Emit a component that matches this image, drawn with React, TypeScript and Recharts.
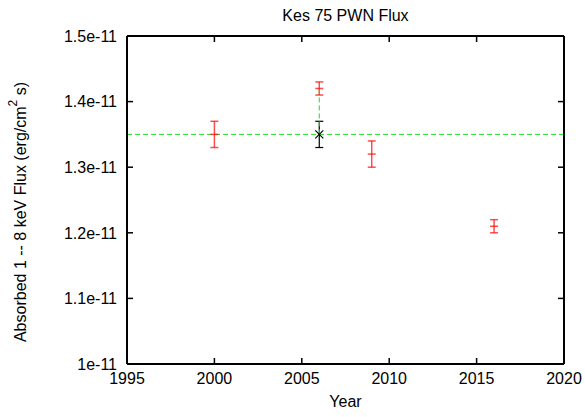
import React from "react";
import {
  ComposedChart,
  Scatter,
  XAxis,
  YAxis,
  ErrorBar,
  ReferenceLine,
  Label,
} from "recharts";

const xTicks = [1995, 2000, 2005, 2010, 2015, 2020];
const yTicks = [1e-11, 1.1e-11, 1.2e-11, 1.3e-11, 1.4e-11, 1.5e-11];
const yTickLabels = ["1e-11", "1.1e-11", "1.2e-11", "1.3e-11", "1.4e-11", "1.5e-11"];

const redYears = [2000, 2006, 2009, 2016];
const redFlux = [1.35e-11, 1.42e-11, 1.32e-11, 1.21e-11];
const redErr = [2e-13, 1e-13, 2e-13, 1e-13];

const blackYears = [2006];
const blackFlux = [1.35e-11];
const blackErr = [2e-13];

const meanFlux = 1.35e-11;
const linkYears = [2006, 2006];
const linkFlux = [1.35e-11, 1.42e-11];

const redData = redYears.map((x, i) => ({ x, y: redFlux[i], err: redErr[i] }));
const blackData = blackYears.map((x, i) => ({ x, y: blackFlux[i], err: blackErr[i] }));
const linkData = linkYears.map((x, i) => ({ x, y: linkFlux[i] }));

const FONT = "'Liberation Sans', Arial, sans-serif";
const FS = 16;
const TL = 6;

const BottomTick = (p: any) => (
  <g>
    <line x1={p.x} x2={p.x} y1={p.y} y2={p.y - TL} stroke="#000" strokeWidth={1.5} />
    <text x={p.x} y={p.y + 20} textAnchor="middle" fontFamily={FONT} fontSize={FS} fill="#000">
      {p.payload.value}
    </text>
  </g>
);
const TopTick = (p: any) => (
  <line x1={p.x} x2={p.x} y1={p.y} y2={p.y + TL} stroke="#000" strokeWidth={1.5} />
);
const LeftTick = (p: any) => {
  const idx = yTicks.findIndex((t) => Math.abs(t - p.payload.value) < 1e-15);
  return (
    <g>
      <line x1={p.x} x2={p.x + TL} y1={p.y} y2={p.y} stroke="#000" strokeWidth={1.5} />
      <text x={p.x - 10} y={p.y} dy="0.36em" textAnchor="end" fontFamily={FONT} fontSize={FS} fill="#000">
        {idx >= 0 ? yTickLabels[idx] : ""}
      </text>
    </g>
  );
};
const RightTick = (p: any) => (
  <line x1={p.x} x2={p.x - TL} y1={p.y} y2={p.y} stroke="#000" strokeWidth={1.5} />
);

const RedShape = (p: any) => (
  <line x1={p.cx - 4} x2={p.cx + 4} y1={p.cy} y2={p.cy} stroke="#ff0000" strokeOpacity={0.7} strokeWidth={1.5} />
);
const BlackShape = (p: any) => (
  <g stroke="#000" strokeWidth={1.2}>
    <line x1={p.cx - 4} x2={p.cx + 4} y1={p.cy - 4} y2={p.cy + 4} />
    <line x1={p.cx - 4} x2={p.cx + 4} y1={p.cy + 4} y2={p.cy - 4} />
  </g>
);
const NoShape = () => <g />;

const YLabel = (props: any) => {
  const vb = props.viewBox || { x: 0, y: 36, width: 127, height: 328 };
  const cx = 20;
  const cy = vb.y + vb.height / 2 + 12;
  return (
    <text
      x={cx}
      y={cy}
      transform={`rotate(-90, ${cx}, ${cy})`}
      textAnchor="middle"
      dominantBaseline="central"
      fontFamily={FONT}
      fontSize={FS}
      fill="#000"
    >
      Absorbed 1 -- 8 keV Flux (erg/cm
      <tspan dy={-7} fontSize={12}>2</tspan>
      <tspan dy={7}> s)</tspan>
    </text>
  );
};

const Title = (props: any) => {
  const vb = props.viewBox || { x: 127, y: 35, width: 437 };
  return (
    <text x={vb.x + vb.width / 2} y={21} textAnchor="middle" fontFamily={FONT} fontSize={FS} fill="#000">
      Kes 75 PWN Flux
    </text>
  );
};

const XTitle = (props: any) => {
  const vb = props.viewBox || { x: 127, y: 364, width: 437 };
  return (
    <text x={vb.x + vb.width / 2} y={vb.y + 43} textAnchor="middle" fontFamily={FONT} fontSize={FS} fill="#000">
      Year
    </text>
  );
};

export default function App() {
  return (
    <div style={{ position: "absolute", left: 0, top: 0, background: "#fff" }}>
      <ComposedChart width={585} height={417} margin={{ top: 35, right: 20, bottom: 0, left: 0 }}>
        <XAxis
          xAxisId="b"
          dataKey="x"
          type="number"
          domain={[1995, 2020]}
          ticks={xTicks}
          allowDataOverflow
          height={53}
          tickSize={0}
          tickMargin={0}
          tickLine={false}
          axisLine={{ stroke: "#000", strokeWidth: 2 }}
          tick={BottomTick}
          interval={0}
        >
          <Label content={XTitle} />
        </XAxis>
        <XAxis
          xAxisId="t"
          orientation="top"
          dataKey="x"
          type="number"
          domain={[1995, 2020]}
          ticks={xTicks}
          allowDataOverflow
          height={1}
          tickSize={0}
          tickMargin={0}
          tickLine={false}
          axisLine={{ stroke: "#000", strokeWidth: 2 }}
          tick={TopTick}
          interval={0}
        >
          <Label content={Title} />
        </XAxis>
        <YAxis
          yAxisId="l"
          type="number"
          domain={[1e-11, 1.5e-11]}
          ticks={yTicks}
          allowDataOverflow
          width={127}
          tickSize={0}
          tickMargin={0}
          tickLine={false}
          axisLine={{ stroke: "#000", strokeWidth: 2 }}
          tick={LeftTick}
          interval={0}
        >
          <Label content={YLabel} />
        </YAxis>
        <YAxis
          yAxisId="r"
          orientation="right"
          type="number"
          domain={[1e-11, 1.5e-11]}
          ticks={yTicks}
          allowDataOverflow
          width={1}
          tickSize={0}
          tickMargin={0}
          tickLine={false}
          axisLine={{ stroke: "#000", strokeWidth: 2 }}
          tick={RightTick}
          interval={0}
        />
        <ReferenceLine
          xAxisId="b"
          yAxisId="l"
          y={meanFlux}
          stroke="#22dd22"
          strokeWidth={1}
          strokeDasharray="5 3"
        />
        <Scatter
          xAxisId="b"
          yAxisId="l"
          data={linkData}
          dataKey="y"
          shape={NoShape}
          line={{ stroke: "#22dd22", strokeWidth: 1, strokeDasharray: "5 3" }}
          isAnimationActive={false}
        />
        <Scatter
          xAxisId="b"
          yAxisId="l"
          data={redData}
          dataKey="y"
          shape={RedShape}
          isAnimationActive={false}
        >
          <ErrorBar dataKey="err" direction="y" width={4} stroke="#ff0000" strokeOpacity={0.7} strokeWidth={1.5} isAnimationActive={false} />
        </Scatter>
        <Scatter
          xAxisId="b"
          yAxisId="l"
          data={blackData}
          dataKey="y"
          shape={BlackShape}
          isAnimationActive={false}
        >
          <ErrorBar dataKey="err" direction="y" width={4} stroke="#000" strokeWidth={1.2} isAnimationActive={false} />
        </Scatter>
      </ComposedChart>
    </div>
  );
}
